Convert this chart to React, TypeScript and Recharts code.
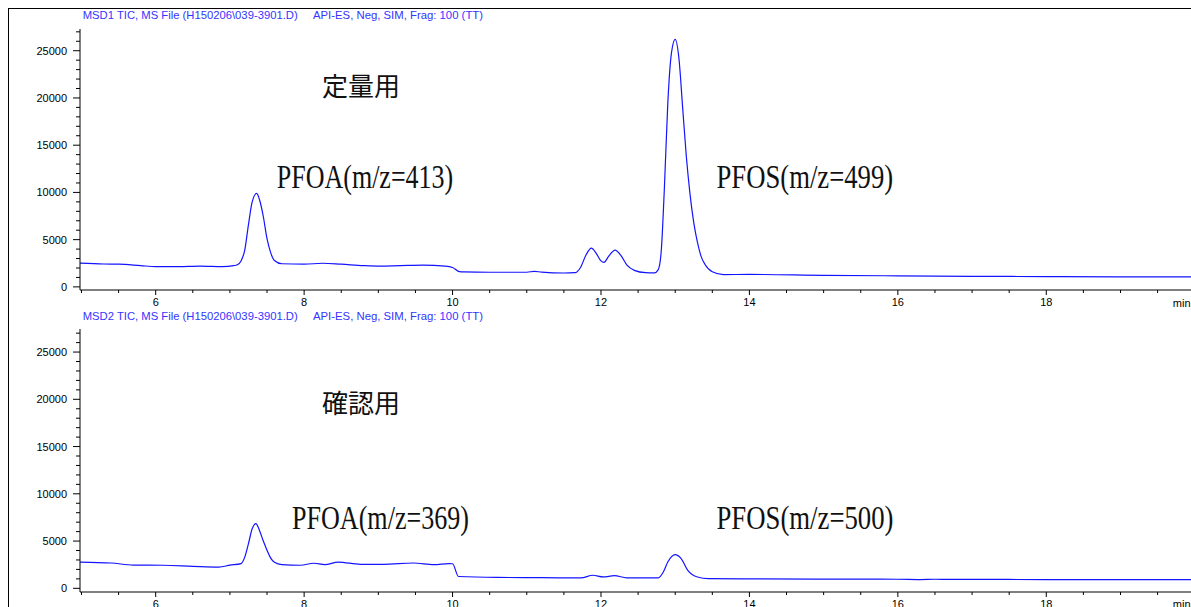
import { LineChart, Line, XAxis, YAxis } from "recharts";

// retention time (min) / abundance
const MSD1_TIME = [
  4.98, 5.3, 5.5, 5.8, 6.0, 6.3, 6.6, 6.9, 7.05, 7.1,
  7.15, 7.2, 7.25, 7.3, 7.36, 7.4, 7.45, 7.5, 7.55, 7.6,
  7.7, 8.0, 8.25, 8.5, 8.8, 9.0, 9.3, 9.6, 9.9, 10.0,
  10.08, 10.15, 10.5, 11.0, 11.1, 11.2, 11.5, 11.65, 11.72, 11.8,
  11.87, 11.94, 12.0, 12.04, 12.1, 12.19, 12.27, 12.35, 12.45, 12.6,
  12.72, 12.77, 12.81, 12.855, 12.9, 12.95, 13.0, 13.05, 13.1, 13.15,
  13.2, 13.25, 13.3, 13.35, 13.4, 13.5, 13.65, 14.0, 15.0, 16.0,
  17.0, 18.0, 19.0, 19.95,
];
const MSD1_TIC = [
  2520, 2420, 2400, 2250, 2150, 2150, 2200, 2150, 2250, 2350,
  2750, 3900, 6600, 9000, 9900, 9200, 7450, 5100, 3600, 2800,
  2450, 2400, 2500, 2400, 2250, 2200, 2250, 2300, 2200, 2050,
  1650, 1580, 1550, 1550, 1650, 1560, 1470, 1500, 2000, 3400,
  4100, 3500, 2750, 2600, 3200, 3900, 3300, 2300, 1750, 1500,
  1480, 1800, 3600, 10600, 19400, 24800, 26200, 24200, 19000, 13800,
  9800, 6800, 4700, 3200, 2400, 1600, 1300, 1320, 1220, 1170,
  1120, 1090, 1070, 1050,
];

const MSD2_TIME = [
  4.98, 5.4, 5.7, 6.1, 6.5, 6.85, 7.0, 7.15, 7.2, 7.25,
  7.3, 7.35, 7.4, 7.45, 7.5, 7.55, 7.6, 7.7, 7.95, 8.13,
  8.28, 8.46, 8.76, 9.07, 9.47, 9.75, 9.95, 10.0, 10.08, 10.6,
  11.2, 11.73, 11.89, 12.03, 12.18, 12.35, 12.77, 12.84, 12.9, 13.0,
  13.08, 13.17, 13.3, 13.45, 14.0, 15.0, 16.0, 16.3, 16.5, 16.7,
  17.0, 18.0, 19.0, 19.95,
];
const MSD2_TIC = [
  2780, 2680, 2450, 2440, 2330, 2250, 2450, 2620, 3300, 4730,
  6300, 6850, 6100, 5000, 4030, 3200, 2750, 2500, 2440, 2650,
  2510, 2780, 2540, 2540, 2680, 2510, 2620, 2600, 1250, 1150,
  1130, 1100, 1380, 1200, 1340, 1100, 1100, 1730, 2790, 3570,
  3150, 1900, 1200, 1030, 1000, 980, 960, 930, 960, 940,
  940, 930, 920, 920,
];

const X_TICKS = [
  5, 5.5, 6, 6.5, 7, 7.5, 8, 8.5, 9, 9.5, 10, 10.5, 11, 11.5, 12, 12.5,
  13, 13.5, 14, 14.5, 15, 15.5, 16, 16.5, 17, 17.5, 18, 18.5, 19, 19.5,
];
const X_LABELS = [6, 8, 10, 12, 14, 16, 18];
const Y_TICKS = [
  0, 1000, 2000, 3000, 4000, 5000, 6000, 7000, 8000, 9000, 10000, 11000,
  12000, 13000, 14000, 15000, 16000, 17000, 18000, 19000, 20000, 21000,
  22000, 23000, 24000, 25000, 26000, 27000,
];
const Y_LABELS = [0, 5000, 10000, 15000, 20000, 25000];

const FILE_1 = "MSD1 TIC, MS File (H150206\\039-3901.D)";
const FILE_2 = "MSD2 TIC, MS File (H150206\\039-3901.D)";
const METHOD = "API-ES, Neg, SIM, Frag: 100 (TT)";

const TRACE = "#1414ff";
const TITLE_BLUE = "#3434ff";
const AXIS_FONT = "'Liberation Sans', Arial, sans-serif";

function TimeTick({ x, y, payload }: any) {
  const major = X_LABELS.includes(payload.value);
  return (
    <g>
      <line x1={x} x2={x} y1={y} y2={y + (major ? 5 : 3)} stroke="#000" />
      {major && (
        <text x={x} y={y + 16} textAnchor="middle" fontSize={11} fill="#000" fontFamily={AXIS_FONT}>
          {payload.value}
        </text>
      )}
    </g>
  );
}

function AbundanceTick({ x, y, payload }: any) {
  const major = Y_LABELS.includes(payload.value);
  return (
    <g>
      <line x1={x - (major ? 7 : 4)} x2={x} y1={y} y2={y} stroke="#000" />
      {major && (
        <text x={x - 13} y={y + 4} textAnchor="end" fontSize={11} fill="#000" fontFamily={AXIS_FONT}>
          {payload.value}
        </text>
      )}
    </g>
  );
}

function Trace({ time, tic, top, height, yDomain }: any) {
  const data = time.map((t: number, i: number) => ({ t, v: tic[i] }));
  return (
    <div style={{ position: "absolute", left: 0, top }}>
      <LineChart width={1191} height={height} data={data} margin={{ top: 20, right: 0, bottom: 0, left: 10 }}>
        <XAxis
          dataKey="t"
          type="number"
          domain={[4.98, 19.95]}
          allowDataOverflow
          ticks={X_TICKS}
          interval={0}
          tickSize={0}
          tickMargin={0}
          tick={<TimeTick />}
          height={20}
          axisLine={{ stroke: "#000" }}
        />
        <YAxis
          type="number"
          domain={yDomain}
          allowDataOverflow
          ticks={Y_TICKS}
          interval={0}
          tickSize={0}
          tickMargin={0}
          tick={<AbundanceTick />}
          width={70}
          axisLine={{ stroke: "#000" }}
        />
        <Line
          type="monotone"
          dataKey="v"
          stroke={TRACE}
          strokeWidth={1.2}
          dot={false}
          isAnimationActive={false}
        />
      </LineChart>
    </div>
  );
}

export default function App() {
  const note = { fill: "#111", fontFamily: "'Liberation Serif', serif" };
  const kanji = { fill: "#111", fontFamily: "'Noto Sans CJK JP', sans-serif" };
  return (
    <div
      style={{
        position: "fixed",
        left: 0,
        top: 0,
        width: 1191,
        height: 607,
        overflow: "hidden",
        background: "#fff",
      }}
    >
      <div
        style={{
          position: "absolute",
          left: 8,
          top: 8,
          width: 1183,
          height: 599,
          borderTop: "1px solid #000",
          borderLeft: "1px solid #000",
        }}
      />
      <Trace time={MSD1_TIME} tic={MSD1_TIC} top={9} height={301} yDomain={[-330, 27300]} />
      <Trace time={MSD2_TIME} tic={MSD2_TIC} top={309} height={303} yDomain={[-390, 27440]} />
      <svg
        width={1191}
        height={607}
        style={{ position: "absolute", left: 0, top: 0, pointerEvents: "none" }}
      >
        <g fontFamily={AXIS_FONT} fontSize={11} fill={TITLE_BLUE}>
          <text x={82.7} y={19.3} textLength={215} lengthAdjust="spacingAndGlyphs">{FILE_1}</text>
          <text x={313} y={19.3} textLength={170} lengthAdjust="spacingAndGlyphs">{METHOD}</text>
          <text x={82.7} y={319.5} textLength={215} lengthAdjust="spacingAndGlyphs">{FILE_2}</text>
          <text x={313} y={319.5} textLength={170} lengthAdjust="spacingAndGlyphs">{METHOD}</text>
        </g>
        <g fontFamily={AXIS_FONT} fontSize={11} fill="#000" textAnchor="middle">
          <text x={1181.7} y={307}>min</text>
          <text x={1181.7} y={608}>min</text>
        </g>
        <text x={322} y={96} fontSize={26} {...kanji}>定量用</text>
        <text x={322} y={412.5} fontSize={26} {...kanji}>確認用</text>
        <g fontSize={33} {...note}>
          <text x={276.7} y={188} textLength={176.6} lengthAdjust="spacingAndGlyphs">PFOA(m/z=413)</text>
          <text x={716.5} y={188} textLength={176.6} lengthAdjust="spacingAndGlyphs">PFOS(m/z=499)</text>
          <text x={292} y={529} textLength={177} lengthAdjust="spacingAndGlyphs">PFOA(m/z=369)</text>
          <text x={716.5} y={529} textLength={177} lengthAdjust="spacingAndGlyphs">PFOS(m/z=500)</text>
        </g>
      </svg>
    </div>
  );
}
